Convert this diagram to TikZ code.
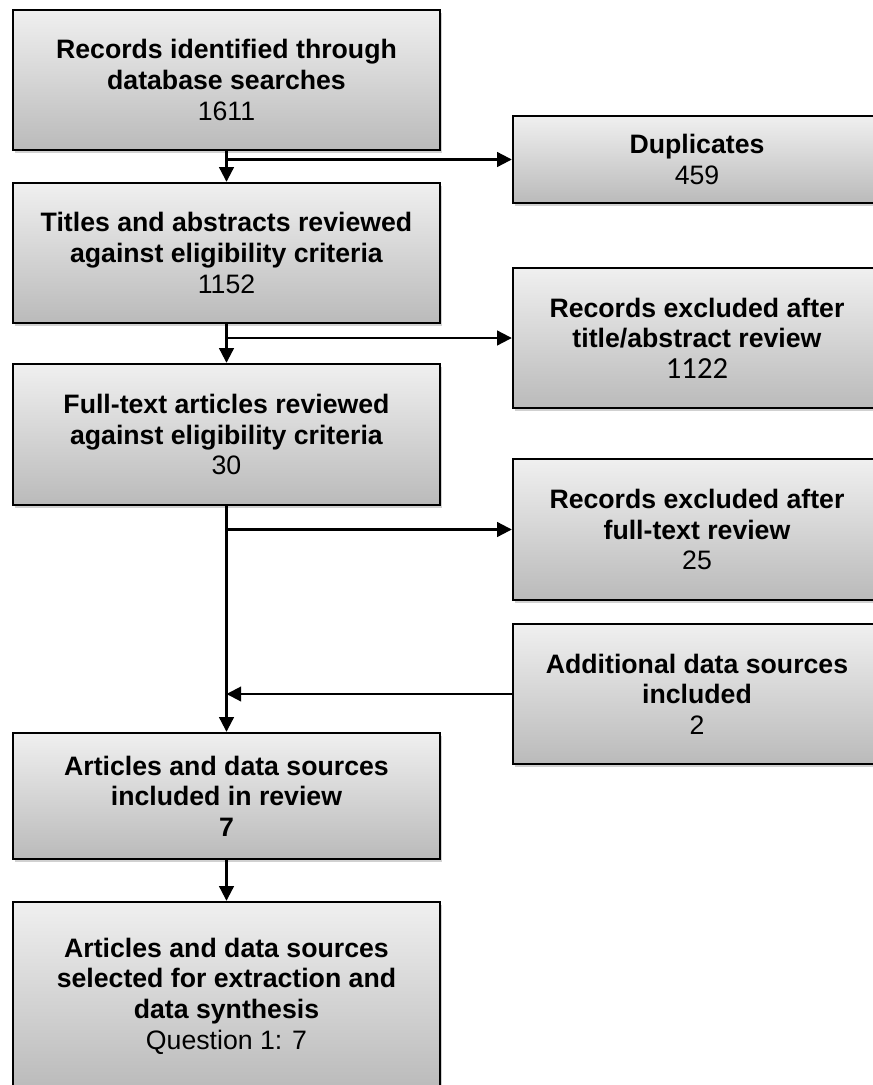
\documentclass[tikz,border=0pt]{standalone}
\usepackage{fontspec}
\setmainfont{Liberation Sans}
\newfontfamily\calfont{Carlito}
\usetikzlibrary{arrows.meta,shadows}

\begin{document}
\begin{tikzpicture}[x=0.75pt,y=-0.75pt,
  box/.style={draw=black, line width=1.8pt, top color=black!6, bottom color=black!27,
    drop shadow={shadow xshift=1.5pt, shadow yshift=-2pt, opacity=0.3, fill=black!60},
    align=center, font=\fontsize{20}{23}\selectfont, inner sep=4pt},
  lbox/.style={box, minimum width=320.25pt},
  rbox/.style={box, minimum width=276pt},
  link/.style={line width=1.6pt, -{Triangle[width=11pt,length=11pt]}}]
\clip (0,0) rectangle (873,1085);
% main column
\node[lbox, minimum height=105pt] (ident) at (226.5,80) {\textbf{Records identified through}\\\textbf{database searches}\\1611};
\node[lbox, minimum height=105pt] (screen) at (226.5,253) {\textbf{Titles and abstracts reviewed}\\\textbf{against eligibility criteria}\\1152};
\node[lbox, minimum height=105.75pt] (fulltext) at (226.5,434.5) {\textbf{Full-text articles reviewed}\\\textbf{against eligibility criteria}\\30};
\node[lbox, minimum height=94.5pt] (incl) at (226.5,796) {\textbf{Articles and data sources}\\\textbf{included in review}\\\textbf{7}};
\node[lbox, minimum height=141pt] (synth) at (226.5,996) {\textbf{Articles and data sources}\\\textbf{selected for extraction and}\\\textbf{data synthesis}\\Question 1: 7};
% side column
\node[rbox, minimum height=65.25pt] (dup) at (697,159.5) {\textbf{Duplicates}\\459};
\node[rbox, minimum height=105pt] (exclta) at (697,338) {\textbf{Records excluded after}\\\textbf{title/abstract review}\\{\calfont\fontsize{23}{26}\selectfont 1122}};
\node[rbox, minimum height=105.75pt] (exclft) at (697,529.5) {\textbf{Records excluded after}\\\textbf{full-text review}\\25};
\node[rbox, minimum height=105pt] (addl) at (697,694) {\textbf{Additional data sources}\\\textbf{included}\\2};
% connectors
\draw[link] (ident.south) -- (screen.north);
\draw[link] (ident.south |- dup.west) -- (dup.west);
\draw[link] (screen.south) -- (fulltext.north);
\draw[link] (screen.south |- exclta.west) -- (exclta.west);
\draw[link] (fulltext.south) -- (incl.north);
\draw[link] (fulltext.south |- exclft.west) -- (exclft.west);
\draw[link] (addl.west) -- (fulltext.south |- addl.west);
\draw[link] (incl.south) -- (synth.north);
\end{tikzpicture}
\end{document}
